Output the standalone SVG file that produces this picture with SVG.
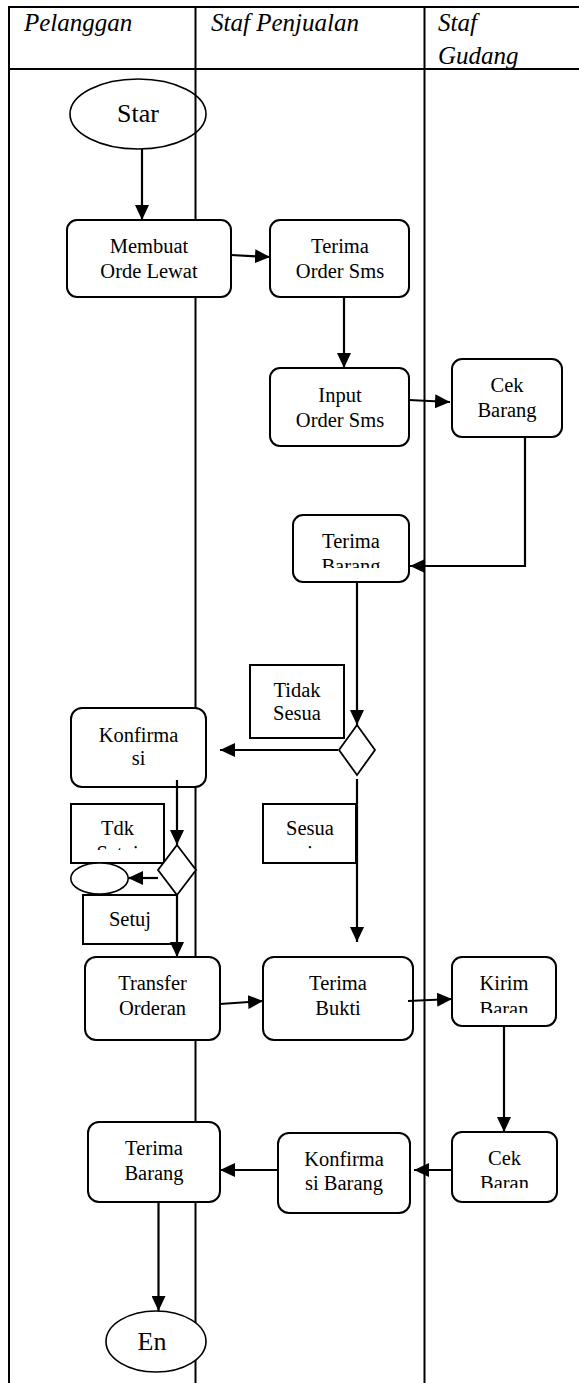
<svg xmlns="http://www.w3.org/2000/svg" width="579" height="1383" viewBox="0 0 579 1383" font-family="Liberation Serif, serif">
<style>
.grid{stroke:#000;stroke-width:2;fill:none}
.box{fill:#fff;stroke:#000;stroke-width:2}
.lbl{fill:#fff;stroke:#000;stroke-width:2}
.ell{fill:#fff;stroke:#000;stroke-width:1.6}
.c{stroke:#000;stroke-width:2.2;fill:none;marker-end:url(#ah)}
</style>
<defs>
<marker id="ah" markerUnits="userSpaceOnUse" markerWidth="15" markerHeight="14" refX="15" refY="7" orient="auto">
<path d="M0,0 L15,7 L0,14 z" fill="#000"/>
</marker>
<clipPath id="cTB1"><rect x="293" y="515" width="116" height="53"/></clipPath>
<clipPath id="cTdk"><rect x="71" y="804" width="93" height="46"/></clipPath>
<clipPath id="cSes"><rect x="263" y="804" width="93" height="46"/></clipPath>
<clipPath id="cKir"><rect x="452" y="957" width="104" height="56"/></clipPath>
<clipPath id="cCek"><rect x="452" y="1132" width="105" height="56"/></clipPath>
</defs>
<rect width="579" height="1383" fill="#fff"/>
<g id="lanes">
<line class="grid" x1="9" y1="7" x2="579" y2="7"/>
<line class="grid" x1="9" y1="69" x2="579" y2="69"/>
<line class="grid" x1="9" y1="6" x2="9" y2="1383"/>
<line class="grid" x1="195.5" y1="6" x2="195.5" y2="1383"/>
<line class="grid" x1="424.5" y1="6" x2="424.5" y2="1383"/>
<g font-family="Liberation Serif, serif" font-style="italic" font-size="25" fill="#000">
<text x="24" y="31">Pelanggan</text>
<text x="211" y="31">Staf Penjualan</text>
<text x="438" y="31">Staf</text>
<text x="438" y="64">Gudang</text>
</g>
</g>
<g font-family="Liberation Serif, serif" font-size="20.5" text-anchor="middle" fill="#000">
<g id="star"><ellipse cx="138" cy="114" rx="68" ry="35" fill="none" stroke="#000" stroke-width="1.6"/><text x="138" y="122" font-size="26">Star</text></g>
<g id="membuat"><rect class="box" x="67" y="220" width="164" height="77" rx="10"/><text x="149" y="253">Membuat</text><text x="149" y="278">Orde Lewat</text></g>
<g id="terimaOrder"><rect class="box" x="270" y="220" width="139" height="77" rx="10"/><text x="340" y="253">Terima</text><text x="340" y="278">Order Sms</text></g>
<g id="inputOrder"><rect class="box" x="270" y="368" width="139" height="78" rx="10"/><text x="340" y="402">Input</text><text x="340" y="427">Order Sms</text></g>
<g id="cekBarang"><rect class="box" x="452" y="359" width="110" height="78" rx="10"/><text x="507" y="392">Cek</text><text x="507" y="417">Barang</text></g>
<g id="terimaBarang1"><rect class="box" x="293" y="515" width="116" height="67" rx="10"/><text x="351" y="548">Terima</text><text x="351" y="573" clip-path="url(#cTB1)">Barang</text></g>
<g id="tidakSesua"><rect class="lbl" x="250" y="665" width="94" height="73"/><text x="297" y="697">Tidak</text><text x="297" y="720">Sesua</text></g>
<g id="decision1"><polygon points="357,725 375,750 357,775 339,750" fill="#fff" stroke="#000" stroke-width="1.8"/></g>
<g id="konfirmasi"><rect class="box" x="71" y="708" width="135" height="79" rx="11"/><text x="138.5" y="742">Konfirma</text><text x="138.5" y="765">si</text></g>
<g id="tdkSetuj"><rect class="lbl" x="71" y="804" width="93" height="59"/><text x="117.5" y="835">Tdk</text><text x="117.5" y="860" clip-path="url(#cTdk)">Setuj</text></g>
<g id="sesuai"><rect class="lbl" x="263" y="804" width="93" height="59"/><text x="310" y="835">Sesua</text><text x="310" y="860" clip-path="url(#cSes)">i</text></g>
<g id="decision2"><polygon points="177,845 196,870 177,895 158,870" fill="#fff" stroke="#000" stroke-width="1.8"/></g>
<g id="smallEnd"><ellipse class="ell" cx="99.5" cy="878.5" rx="28.7" ry="15.5"/></g>
<g id="setuj"><rect class="lbl" x="83" y="895" width="94" height="49"/><text x="130" y="926">Setuj</text></g>
<g id="transfer"><rect class="box" x="85" y="957" width="135" height="83" rx="11"/><text x="152.5" y="990">Transfer</text><text x="152.5" y="1015">Orderan</text></g>
<g id="terimaBukti"><rect class="box" x="263" y="957" width="150" height="83" rx="11"/><text x="338" y="990">Terima</text><text x="338" y="1015">Bukti</text></g>
<g id="kirimBarang"><rect class="box" x="452" y="957" width="104" height="69" rx="10"/><text x="504" y="990">Kirim</text><text x="504" y="1016" clip-path="url(#cKir)">Baran</text></g>
<g id="cekBaran"><rect class="box" x="452" y="1132" width="105" height="70" rx="10"/><text x="504.5" y="1165">Cek</text><text x="504.5" y="1190" clip-path="url(#cCek)">Baran</text></g>
<g id="konfirmasiBarang"><rect class="box" x="278" y="1133" width="132" height="80" rx="11"/><text x="344" y="1166">Konfirma</text><text x="344" y="1190">si Barang</text></g>
<g id="terimaBarang2"><rect class="box" x="88" y="1122" width="132" height="80" rx="11"/><text x="154" y="1155">Terima</text><text x="154" y="1180">Barang</text></g>
<g id="end"><ellipse class="ell" cx="156" cy="1341.5" rx="50" ry="30.5"/><text x="152" y="1350" font-size="26">En</text></g>
</g>
<g id="connectors">
<line class="c" x1="142" y1="149" x2="142" y2="220"/>
<line class="c" x1="231" y1="255" x2="270" y2="257"/>
<line class="c" x1="344" y1="297" x2="344" y2="368"/>
<line class="c" x1="409" y1="400" x2="450" y2="402"/>
<polyline class="c" points="525,437 525,566 410,566"/>
<line class="c" x1="357" y1="582" x2="357" y2="725"/>
<line class="c" x1="338" y1="750" x2="220" y2="750"/>
<line class="c" x1="177" y1="780" x2="177" y2="845"/>
<line class="c" x1="158" y1="878" x2="128" y2="878"/>
<line class="c" x1="177" y1="895" x2="177" y2="957"/>
<line class="c" x1="357" y1="779" x2="357" y2="942"/>
<line class="c" x1="220" y1="1004" x2="263" y2="1001"/>
<line class="c" x1="408" y1="1001" x2="452" y2="999"/>
<line class="c" x1="504" y1="1026" x2="504" y2="1132"/>
<line class="c" x1="452" y1="1170" x2="414" y2="1170"/>
<line class="c" x1="278" y1="1170" x2="220" y2="1170"/>
<line class="c" x1="158.5" y1="1202" x2="158.5" y2="1311"/>
</g>
</svg>
